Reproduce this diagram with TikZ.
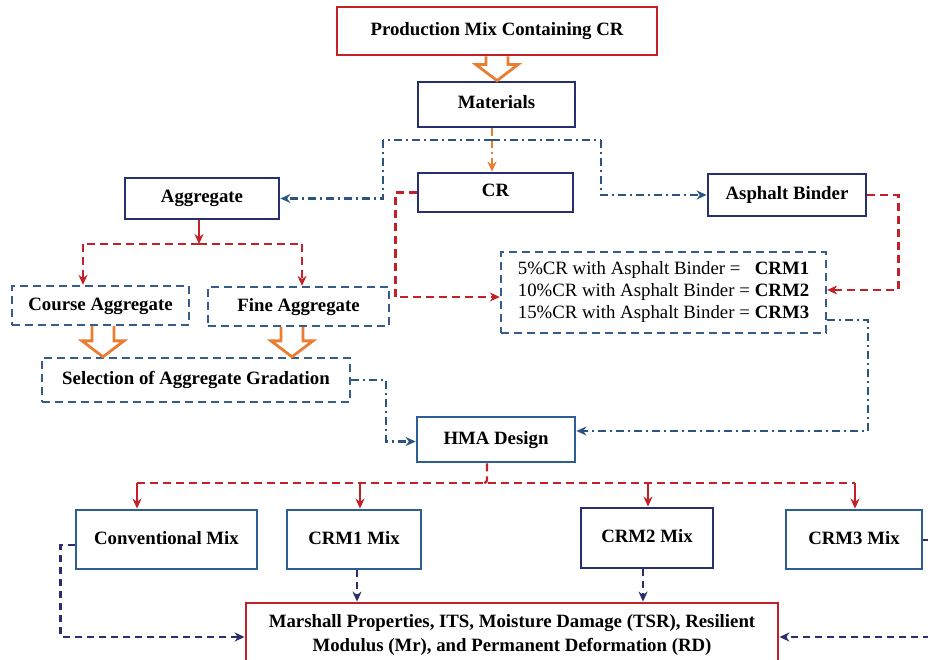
\documentclass[tikz,border=0pt]{standalone}
\usepackage{fontspec}
\setmainfont{Liberation Serif}
\usetikzlibrary{arrows.meta,calc}
\definecolor{cred}{RGB}{196,32,40}
\definecolor{cnavy}{RGB}{38,48,112}
\definecolor{cmid}{RGB}{44,94,146}
\definecolor{corange}{RGB}{233,125,50}
\definecolor{cdbox}{RGB}{52,92,140}
\definecolor{cbdd}{RGB}{43,84,130}
\definecolor{cndash}{RGB}{40,46,110}
\tikzset{
  box/.style={draw, line width=2.8pt, fill=white, inner sep=0pt,
    font=\fontsize{18.8}{22}\selectfont\bfseries},
  onel/.style={text height=13pt, text depth=4pt},
  redbox/.style={box, draw=cred},
  navybox/.style={box, draw=cnavy, onel},
  midbox/.style={box, draw=cmid, onel},
  dbox/.style={box, draw=cdbox, line width=2.3pt, dash pattern=on 8pt off 5pt},
  tip/.style={-{Stealth[length=10pt,width=9pt]}},
  reddash/.style={draw=cred, line width=2.3pt, dash pattern=on 8pt off 5pt},
  redsolid/.style={draw=cred, line width=2.3pt, tip},
  bluedd/.style={draw=cbdd, line width=2.3pt, dash pattern=on 8pt off 4pt on 2pt off 4pt},
  navydash/.style={draw=cndash, line width=2.3pt, dash pattern=on 7pt off 5pt},
  orangedd/.style={draw=corange, line width=2.3pt, dash pattern=on 8pt off 4pt on 2pt off 4pt},
  harrow/.style={draw=corange, line width=2.8pt, fill=white, line join=miter},
}
\newcommand{\hollowarrow}[2]{%
  \draw[harrow] let \p1=#1, \p2=#2 in
    (\x1-11pt,\y1) -- (\x1-11pt,\y2+16pt) -- (\x1-21pt,\y2+16pt) -- (\x1,\y2)
    -- (\x1+21pt,\y2+16pt) -- (\x1+11pt,\y2+16pt) -- (\x1+11pt,\y1);}
\begin{document}
\begin{tikzpicture}[x=1pt,y=-1pt]
\clip (0,0) rectangle (928,660);
\fill[white] (0,0) rectangle (928,660);

% coordinates for splits/buses
\coordinate (split) at (492,140);
\coordinate (lb) at (383,140);
\coordinate (rb) at (601,140);
\coordinate (aggbus) at (199,244);
\coordinate (busL) at (137,483);
\coordinate (busR) at (855,483);

% nodes
\node[redbox, onel, minimum width=320pt, minimum height=48pt] (prod) at (497,31) {Production Mix Containing CR};
\node[navybox, minimum width=157pt, minimum height=45pt] (mat) at (496.5,104.5) {Materials};
\node[navybox, minimum width=155pt, minimum height=39pt] (cr) at (495.5,192.5) {CR};
\node[navybox, minimum width=154pt, minimum height=41pt] (agg) at (202,198.5) {Aggregate};
\node[navybox, minimum width=158pt, minimum height=42pt] (ab) at (787,195) {Asphalt Binder};
\node[dbox, onel, minimum width=177pt, minimum height=39pt] (course) at (100.5,305.5) {Course Aggregate};
\node[dbox, onel, minimum width=181pt, minimum height=39pt] (fine) at (298.5,306.5) {Fine Aggregate};
\node[dbox, minimum width=325pt, minimum height=81pt, font=\fontsize{18.8}{22}\selectfont] (crm) at (663.5,292.5)
  {\begin{tabular}{@{}l@{\hspace{5pt}}l@{}}
   5\%CR with Asphalt Binder = & \textbf{CRM1}\\
   10\%CR with Asphalt Binder = & \textbf{CRM2}\\
   15\%CR with Asphalt Binder = & \textbf{CRM3}
   \end{tabular}};
\node[dbox, onel, minimum width=308pt, minimum height=44pt] (sel) at (196,380) {Selection of Aggregate Gradation};
\node[midbox, minimum width=158pt, minimum height=45pt] (hma) at (496,439.5) {HMA Design};
\node[midbox, minimum width=181pt, minimum height=59pt] (conv) at (166.5,539.5) {Conventional Mix};
\node[midbox, minimum width=134pt, minimum height=59pt] (crm1) at (354,539.5) {CRM1 Mix};
\node[navybox, minimum width=132pt, minimum height=60pt] (crm2) at (647,538) {CRM2 Mix};
\node[midbox, minimum width=136pt, minimum height=59pt] (crm3) at (854,539.5) {CRM3 Mix};
\node[redbox, minimum width=532pt, minimum height=64pt, align=center,
  font=\fontsize{18.8}{24}\selectfont\bfseries] (marsh) at (512,635)
  {Marshall Properties, ITS, Moisture Damage (TSR), Resilient\\Modulus (Mr), and Permanent Deformation (RD)};

% hollow arrows
\hollowarrow{(prod.south)}{(mat.north)}
\hollowarrow{([xshift=2.5pt]course.south)}{(sel.north)}
\hollowarrow{([xshift=-6.5pt]fine.south)}{(sel.north)}

% materials to CR
\draw[orangedd] ([xshift=-4.5pt]mat.south) -- ([xshift=-4.5pt]mat.south |- split);
\draw[orangedd, tip, draw=corange] ([xshift=-4.5pt]mat.south |- split) -- ([xshift=-4.5pt]mat.south |- cr.north);

% materials split to aggregate and binder
\draw[bluedd] (split) -- (lb);
\draw[bluedd, tip] (lb) |- (agg.east);
\draw[bluedd] (split) -- (rb);
\draw[bluedd, tip] (rb) |- (ab.west);

% aggregate split
\draw[redsolid] ([xshift=-3pt]agg.south) -- (aggbus);
\draw[reddash] (aggbus) -- ([xshift=-17.5pt]course.north |- aggbus);
\draw[reddash] (aggbus) -- ([xshift=3.5pt]fine.north |- aggbus);
\draw[reddash, tip, draw=cred] ([xshift=-17.5pt]course.north |- aggbus) -- ([xshift=-17.5pt]course.north);
\draw[reddash, tip, draw=cred] ([xshift=3.5pt]fine.north |- aggbus) -- ([xshift=3.5pt]fine.north);

% CR and binder to CRM box
\draw[reddash, tip, draw=cred] (cr.west) -- ++(-21,0) |- ([yshift=-4.5pt]crm.west);
\draw[reddash, tip, draw=cred] (ab.east) -- ++(31,0) |- ([yshift=2.5pt]crm.east);

% to HMA design
\draw[bluedd, tip] ([yshift=-27.5pt]crm.east) -- ++(41,0) |- ([yshift=8.5pt]hma.east);
\draw[bluedd, tip] (sel.east) -- ++(35,0) |- ([yshift=-2pt]hma.west);

% HMA to mixes
\draw[reddash, rounded corners=3pt] ([xshift=-9pt]hma.south) |- ([xshift=-20pt]busL -| hma.south);
\draw[reddash] (busL) -- (busR);
\draw[redsolid] (busL) -- (busL |- conv.north);
\draw[redsolid] ([xshift=6pt]crm1.north |- busL) -- ([xshift=6pt]crm1.north);
\draw[redsolid] ([xshift=1pt]crm2.north |- busL) -- ([xshift=1pt]crm2.north);
\draw[redsolid] ([xshift=1pt]crm3.north |- busL) -- ([xshift=1pt]crm3.north);

% mixes to Marshall
\draw[navydash, tip, draw=cndash] ([xshift=3pt]crm1.south) -- ([xshift=3pt]crm1.south |- marsh.north);
\draw[navydash, tip, draw=cndash] ([xshift=-4pt]crm2.south) -- ([xshift=-4pt]crm2.south |- marsh.north);
\draw[navydash, tip, draw=cndash] ([yshift=-5.5pt]conv.west) -- ++(-14,0) |- ([yshift=-2pt]marsh.west);
\draw[navydash, tip, draw=cndash] ([yshift=-0.5pt]crm3.east) -- ++(9,0) |- ([yshift=-2pt]marsh.east);
\end{tikzpicture}
\end{document}
